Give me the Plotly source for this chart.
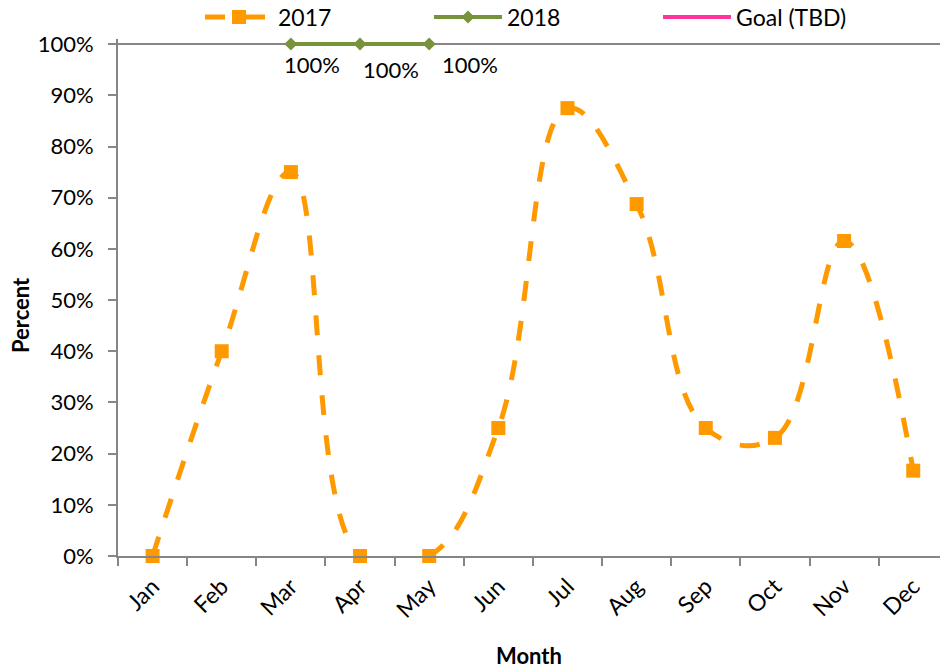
import plotly.graph_objects as go

# Monthly completion rates (percent)
months = ["Jan", "Feb", "Mar", "Apr", "May", "Jun",
          "Jul", "Aug", "Sep", "Oct", "Nov", "Dec"]
rate_2017 = [0, 40, 75, 0, 0, 25, 87.5, 68.75, 25, 23.08, 61.54, 16.67]
rate_2018 = [None, None, 100, 100, 100, None, None, None, None, None, None, None]
goal_tbd = [None] * 12
percent_ticks = list(range(0, 101, 10))

ORANGE = "#FF9900"
GREEN = "#77933C"
PINK = "#FF3399"
AXIS = "#868686"
FONT = "Lato, Open Sans, sans-serif"
FS = 22

fig = go.Figure()

fig.add_trace(go.Scatter(
    x=months, y=rate_2017, name="2017", mode="lines+markers",
    line=dict(color=ORANGE, width=5, dash="20px,20px", shape="spline", smoothing=1.15),
    marker=dict(symbol="square", size=14, color=ORANGE),
    cliponaxis=False,
))
fig.add_trace(go.Scatter(
    x=months, y=rate_2018, name="2018", mode="lines+markers",
    line=dict(color=GREEN, width=4),
    marker=dict(symbol="diamond", size=10, color=GREEN),
    cliponaxis=False,
))
fig.add_trace(go.Scatter(
    x=months, y=goal_tbd, name="Goal (TBD)", mode="lines",
    line=dict(color=PINK, width=4),
))

# value labels under the 2018 points
label_shift = [(21, -20), (31, -25), (41, -20)]
k = 0
for m, v in zip(months, rate_2018):
    if v is None:
        continue
    dx, dy = label_shift[k]
    k += 1
    fig.add_annotation(
        x=m, y=v, text=f"{v:.0f}%", showarrow=False,
        xshift=dx, yshift=dy, font=dict(family=FONT, size=FS, color="#000"),
    )

# axis titles
fig.add_annotation(
    text="<b>Month</b>", xref="paper", yref="paper", x=0.5, y=-0.1915,
    showarrow=False, xanchor="center", yanchor="middle",
    font=dict(family=FONT, size=FS, color="#000"),
)
fig.add_annotation(
    text="<b>Percent</b>", xref="paper", yref="paper", x=-0.1192, y=0.466,
    showarrow=False, textangle=-90, xanchor="center", yanchor="middle",
    font=dict(family=FONT, size=FS, color="#000"),
)

# top border of the plot area
fig.add_shape(type="line", xref="paper", yref="y", x0=0, x1=1, y0=100, y1=100,
              line=dict(color=AXIS, width=2), layer="below")

fig.update_xaxes(
    type="category", range=[-0.5, 11.387],
    showline=True, linecolor=AXIS, linewidth=2,
    ticks="outside", tickson="boundaries", ticklen=8, tickwidth=2, tickcolor=AXIS,
    tickangle=-45, showgrid=False, zeroline=False, ticklabelstandoff=6,
    tickfont=dict(family=FONT, size=23, color="#000"),
)
fig.update_yaxes(
    range=[0, 101], tickmode="array", tickvals=percent_ticks,
    ticktext=[f"{t}%" for t in percent_ticks],
    showline=True, linecolor=AXIS, linewidth=2,
    ticks="outside", ticklen=8, tickwidth=2, tickcolor=AXIS,
    showgrid=False, zeroline=False, ticklabelstandoff=10,
    tickfont=dict(family=FONT, size=FS, color="#000"),
)

fig.update_layout(
    width=940, height=668,
    margin=dict(l=118, r=0, t=39, b=112, autoexpand=False),
    paper_bgcolor="white", plot_bgcolor="white",
    showlegend=True,
    legend=dict(
        orientation="h", xref="container", yref="container",
        x=200 / 940, y=1 - 17 / 668, xanchor="left", yanchor="middle",
        entrywidth=146, entrywidthmode="pixels", itemwidth=68,
        font=dict(family=FONT, size=23, color="#000"),
        bgcolor="rgba(0,0,0,0)",
    ),
)

fig.write_html("out.html")
